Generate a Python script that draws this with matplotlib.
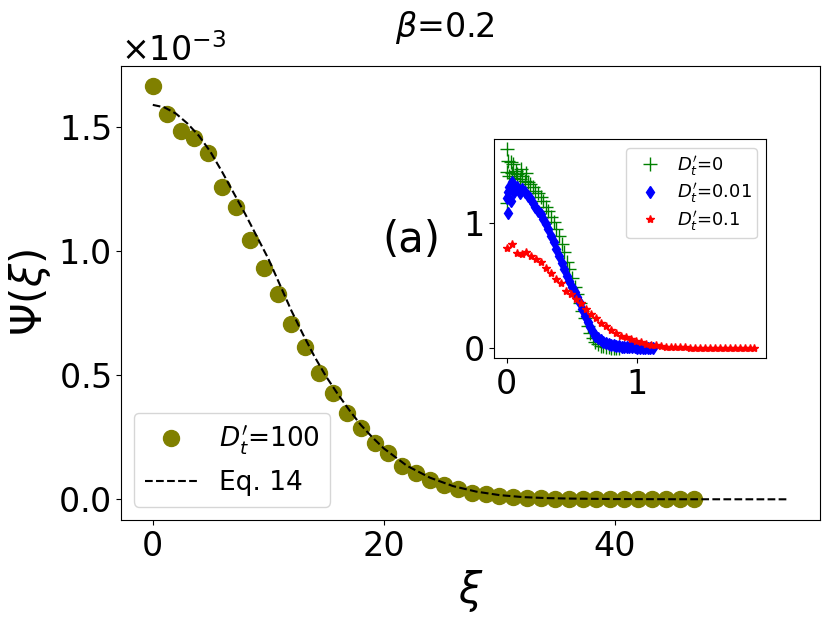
import matplotlib.pyplot as plt

# main panel: simulation points (Psi in units of 1e-3)
xi = [0.0, 1.2, 2.4, 3.6, 4.8, 6.0, 7.2, 8.4, 9.6, 10.8,
      12.0, 13.2, 14.4, 15.6, 16.8, 18.0, 19.2, 20.4, 21.6, 22.8,
      24.0, 25.2, 26.4, 27.6, 28.8, 30.0, 31.2, 32.4, 33.6, 34.8,
      36.0, 37.2, 38.4, 39.6, 40.8, 42.0, 43.2, 44.4, 45.6, 46.8]
psi = [1.665, 1.555, 1.484, 1.458, 1.394, 1.259, 1.179, 1.044, 0.934, 0.829,
       0.708, 0.612, 0.511, 0.430, 0.347, 0.289, 0.225, 0.185, 0.135, 0.107,
       0.077, 0.059, 0.040, 0.027, 0.020, 0.012, 0.008, 0.005, 0.004, 0.003,
       0.002, 0.001, 0.001, 0.0005, 0.0003, 0.0002, 0.0001, 0.0001, 0.0, 0.0]

# Eq. 14 curve
xi_eq = [0, 1, 2, 3, 4, 5, 6, 7, 8, 9, 10, 11, 12, 13, 14, 15, 16, 17, 18, 19,
         20, 22, 24, 26, 28, 30, 32, 34, 36, 40, 45, 50, 55]
psi_eq = [1.59, 1.58, 1.555, 1.515, 1.465, 1.40, 1.32, 1.235, 1.15, 1.06,
          0.97, 0.865, 0.76, 0.665, 0.575, 0.495, 0.425, 0.36, 0.30, 0.25,
          0.205, 0.135, 0.087, 0.053, 0.031, 0.017, 0.009, 0.005, 0.003,
          0.001, 0.0003, 0.0001, 0.0]

# inset: D't = 0
x_d0 = [0.00, 0.00, 0.005, 0.01, 0.02, 0.03, 0.04, 0.05, 0.06, 0.07, 0.08, 0.10,
        0.11, 0.12, 0.14, 0.15, 0.16, 0.18, 0.20, 0.22, 0.24, 0.26, 0.28, 0.30,
        0.32, 0.34, 0.36, 0.38, 0.40, 0.42, 0.44, 0.46, 0.48, 0.50, 0.52, 0.54,
        0.56, 0.58, 0.60, 0.62, 0.64, 0.66, 0.68, 0.70, 0.72, 0.74, 0.76, 0.78,
        0.80, 0.82, 0.84, 0.86]
y_d0 = [1.59, 1.16, 1.41, 1.50, 1.38, 1.49, 1.40, 1.47, 1.36, 1.42, 1.39, 1.35,
        1.43, 1.38, 1.34, 1.40, 1.33, 1.31, 1.29, 1.26, 1.24, 1.21, 1.18, 1.13,
        1.10, 1.05, 1.01, 0.95, 0.90, 0.83, 0.77, 0.69, 0.63, 0.56, 0.49, 0.43,
        0.36, 0.30, 0.24, 0.18, 0.12, 0.08, 0.05, 0.035, 0.02, 0.014, 0.01, 0.007,
        0.005, 0.003, 0.002, 0.001]

# inset: D't = 0.01
x_d1 = [0.00, 0.01, 0.01, 0.02, 0.03, 0.04, 0.05, 0.06, 0.08, 0.10, 0.12, 0.14,
        0.16, 0.18, 0.20, 0.22, 0.24, 0.26, 0.28, 0.30, 0.32, 0.34, 0.36, 0.38,
        0.40, 0.42, 0.44, 0.46, 0.48, 0.50, 0.52, 0.54, 0.56, 0.58, 0.60, 0.62,
        0.64, 0.66, 0.68, 0.70, 0.72, 0.74, 0.76, 0.78, 0.80, 0.82, 0.84, 0.86,
        0.88, 0.90, 0.92, 0.94, 0.96, 0.98, 1.00, 1.02, 1.04, 1.06, 1.08, 1.10,
        1.12]
y_d1 = [1.20, 1.08, 1.25, 1.29, 1.18, 1.33, 1.27, 1.25, 1.29, 1.24, 1.27, 1.25,
        1.22, 1.20, 1.16, 1.13, 1.10, 1.07, 1.03, 0.99, 0.95, 0.90, 0.85, 0.79,
        0.74, 0.68, 0.63, 0.58, 0.54, 0.49, 0.45, 0.41, 0.36, 0.31, 0.26, 0.21,
        0.17, 0.13, 0.10, 0.08, 0.063, 0.05, 0.04, 0.033, 0.027, 0.023, 0.019, 0.016,
        0.013, 0.011, 0.009, 0.008, 0.007, 0.006, 0.005, 0.004, 0.003, 0.003, 0.002, 0.002,
        0.001]

# inset: D't = 0.1
x_d2 = [0.000, 0.038, 0.076, 0.114, 0.152, 0.190, 0.228, 0.266, 0.304, 0.342,
        0.380, 0.418, 0.456, 0.494, 0.532, 0.570, 0.608, 0.646, 0.684, 0.722,
        0.760, 0.798, 0.836, 0.874, 0.912, 0.950, 0.988, 1.026, 1.064, 1.102,
        1.140, 1.178, 1.216, 1.254, 1.292, 1.330, 1.368, 1.406, 1.444, 1.482,
        1.520, 1.558, 1.596, 1.634, 1.672, 1.710, 1.748, 1.786, 1.824, 1.862,
        1.890]
y_d2 = [0.80, 0.83, 0.76, 0.75, 0.77, 0.74, 0.71, 0.69, 0.64, 0.60,
        0.55, 0.52, 0.46, 0.43, 0.39, 0.36, 0.31, 0.27, 0.24, 0.205,
        0.175, 0.145, 0.12, 0.10, 0.086, 0.072, 0.059, 0.046, 0.036, 0.029,
        0.022, 0.016, 0.011, 0.008, 0.007, 0.006, 0.006, 0.005, 0.005, 0.005,
        0.004, 0.004, 0.004, 0.004, 0.003, 0.003, 0.003, 0.003, 0.003, 0.003,
        0.003]

fig = plt.figure(figsize=(8.3, 6.19), dpi=100)
ax = fig.add_axes([0.1458, 0.16, 0.8422, 0.734])

ax.plot(xi, [v * 1e-3 for v in psi], 'o', color='olive', ms=11.5,
        label=r"$D_t^{\prime}$=100")
ax.plot(xi_eq, [v * 1e-3 for v in psi_eq], 'k--', lw=1.5, label='Eq. 14')
ax.set_xticks([0, 20, 40])
ax.set_yticks([0, 0.5e-3, 1e-3, 1.5e-3])
ax.ticklabel_format(axis='y', style='sci', scilimits=(0, 0), useMathText=True)
ax.tick_params(labelsize=24)
ax.yaxis.get_offset_text().set_fontsize(24)
ax.set_xlabel(r'$\xi$', fontsize=30)
ax.set_ylabel(r'$\Psi(\xi)$', fontsize=30)
ax.legend(loc='lower left', fontsize=19)
ax.text(0.374, 0.59, '(a)', transform=ax.transAxes, fontsize=30)
fig.text(445 / 830, 1 - 37 / 619, r'$\beta$=0.2', ha='center',
         va='baseline', fontsize=24)

ins = fig.add_axes([0.5955, 0.4216, 0.3274, 0.3533])
ins.plot(x_d0, y_d0, '+', color='g', ms=9.5, label=r"$D_t^{\prime}$=0")
ins.plot(x_d1, y_d1, 'd', color='b', ms=6, label=r"$D_t^{\prime}$=0.01")
ins.plot(x_d2, y_d2, '*', color='r', ms=6, label=r"$D_t^{\prime}$=0.1")
ins.set_xticks([0, 1])
ins.set_yticks([0, 1])
ins.tick_params(labelsize=24)
ins.legend(loc='upper right', fontsize=13, labelspacing=0.2,
           handletextpad=0.5, borderpad=0.3)

fig.savefig('out.png', dpi=100)
